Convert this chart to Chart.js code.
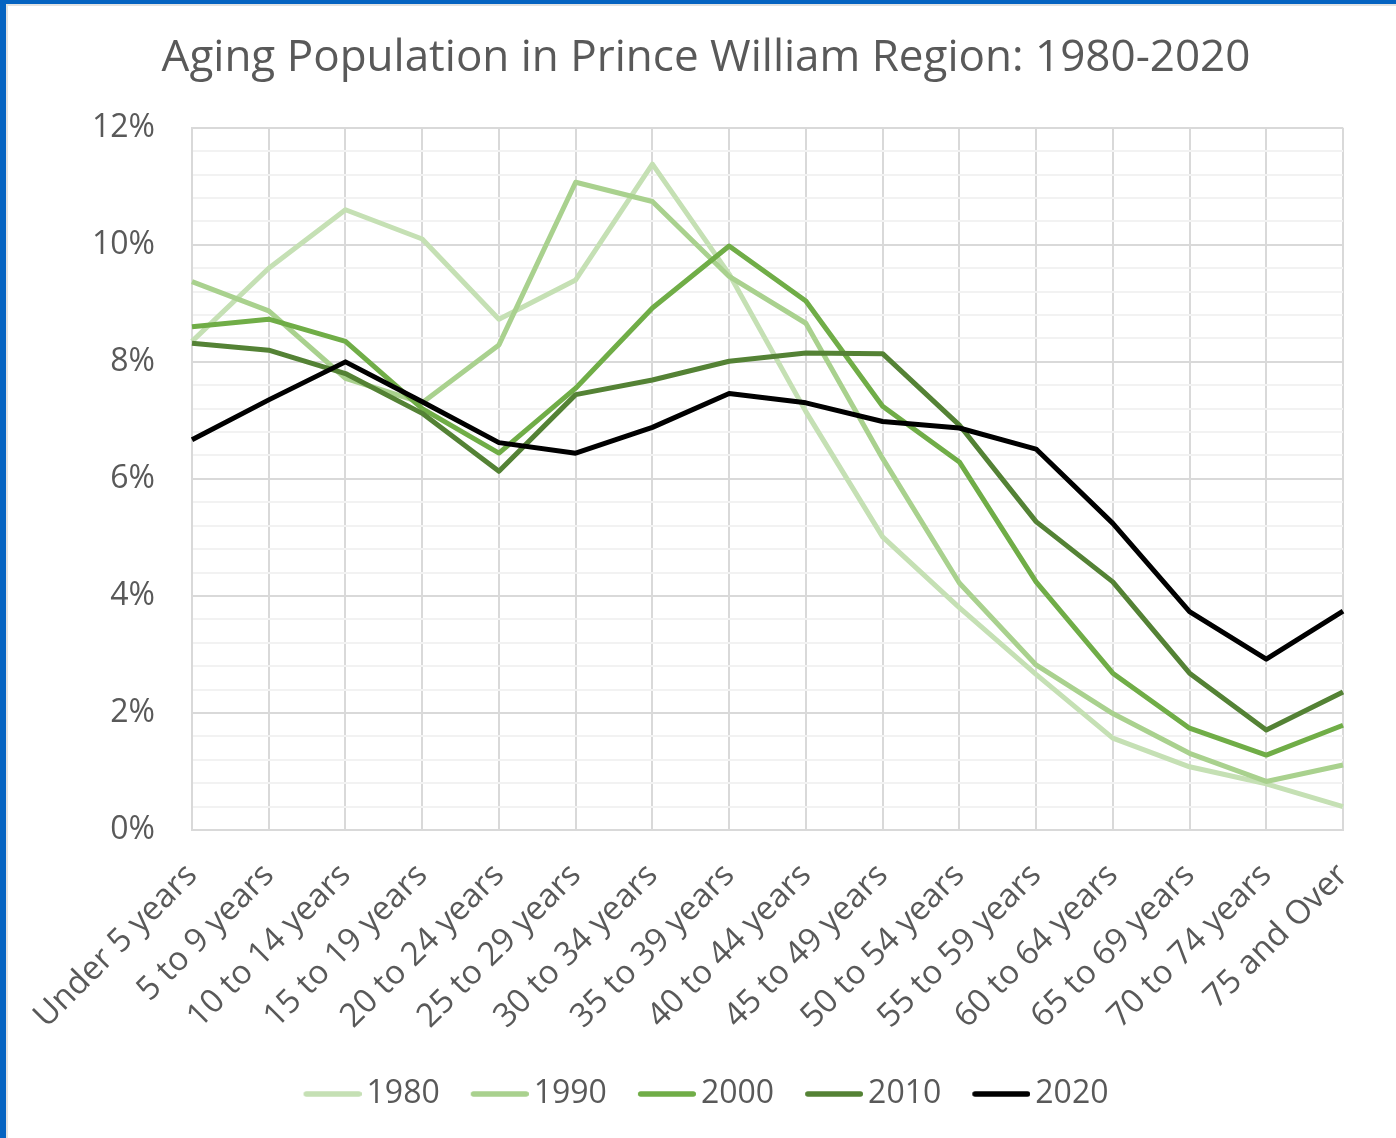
<!DOCTYPE html>
<html><head><meta charset="utf-8">
<script src="https://cdn.jsdelivr.net/npm/chart.js@4"></script>
<style>
html,body{margin:0;padding:0;background:#fff;}
#wrap{position:relative;width:1396px;height:1138px;overflow:hidden;background:#fff;}
#wrap canvas{position:absolute;left:0;top:0;}
.bt{position:absolute;left:0;top:0;width:1396px;height:4px;background:#0563c1;}
.bl{position:absolute;left:0;top:0;width:6px;height:1138px;background:#0563c1;}
.gt{position:absolute;left:6px;top:4px;width:1390px;height:2px;background:#e2e2e2;}
.gl{position:absolute;left:6px;top:4px;width:2px;height:1134px;background:#e2e2e2;}
</style></head><body>
<div id="wrap"><canvas id="c" width="1396" height="1138"></canvas><div class="gt"></div><div class="gl"></div><div class="bt"></div><div class="bl"></div></div>
<script>
const titleText = 'Aging Population in Prince William Region: 1980-2020';
const categories = ['Under 5 years','5 to 9 years','10 to 14 years','15 to 19 years','20 to 24 years','25 to 29 years','30 to 34 years','35 to 39 years','40 to 44 years','45 to 49 years','50 to 54 years','55 to 59 years','60 to 64 years','65 to 69 years','70 to 74 years','75 and Over'];
const years = ['1980','1990','2000','2010','2020'];
const s1980 = [8.35, 9.6, 10.6, 10.1, 8.73, 9.4, 11.38, 9.5, 7.15, 5.01, 3.8, 2.66, 1.57, 1.08, 0.79, 0.4];
const s1990 = [9.37, 8.87, 7.72, 7.3, 8.29, 11.07, 10.74, 9.46, 8.66, 6.35, 4.22, 2.82, 1.99, 1.31, 0.83, 1.11];
const s2000 = [8.6, 8.73, 8.35, 7.2, 6.44, 7.55, 8.92, 9.98, 9.04, 7.24, 6.29, 4.24, 2.68, 1.74, 1.28, 1.79];
const s2010 = [8.32, 8.2, 7.8, 7.12, 6.13, 7.44, 7.69, 8.01, 8.15, 8.14, 6.92, 5.27, 4.24, 2.68, 1.71, 2.36];
const s2020 = [6.67, 7.35, 8.0, 7.32, 6.62, 6.44, 6.88, 7.46, 7.3, 6.98, 6.87, 6.51, 5.24, 3.73, 2.92, 3.74];
const yMin = 0, yMax = 12, yStep = 0.4, yLabelStep = 2;

const seriesList = [s1980, s1990, s2000, s2010, s2020];
const colors = ['#c5e0b4', '#a9d18e', '#70ad47', '#548235', '#000000'];

function legendLine(color) {
  const c = document.createElement('canvas');
  c.width = 69; c.height = 10;
  const g = c.getContext('2d');
  g.strokeStyle = color; g.lineWidth = 5.5; g.lineCap = 'round';
  g.beginPath(); g.moveTo(11 + 2.75, 5); g.lineTo(69 - 2.75, 5); g.stroke();
  return c;
}
const legendImgs = colors.map(legendLine);

Chart.defaults.font.family = "'Open Sans', sans-serif";
Chart.defaults.color = '#595959';

const isMajor = v => Math.abs(v / yLabelStep - Math.round(v / yLabelStep)) < 1e-6;

new Chart(document.getElementById('c'), {
  type: 'line',
  data: {
    labels: categories,
    datasets: years.map((y, i) => ({
      label: y,
      data: seriesList[i],
      borderColor: colors[i],
      backgroundColor: colors[i],
      borderWidth: 5,
      pointRadius: 0,
      tension: 0,
      borderJoinStyle: 'round',
      fill: false,
      order: years.length - i
    }))
  },
  options: {
    responsive: false,
    animation: false,
    devicePixelRatio: 1,
    layout: { padding: { left: 69, right: 53, top: 0, bottom: 18 } },
    plugins: {
      title: { display: true, text: titleText, color: '#595959', font: { size: 44, weight: 'normal' }, padding: { top: 32, bottom: 43 } },
      legend: {
        position: 'bottom',
        labels: {
          usePointStyle: true, pointStyleWidth: 47, padding: 31, color: '#595959', font: { size: 32 },
          generateLabels(chart) {
            const items = Chart.defaults.plugins.legend.labels.generateLabels(chart);
            items.sort((a, b) => a.datasetIndex - b.datasetIndex);
            items.forEach(it => { it.pointStyle = legendImgs[it.datasetIndex]; });
            return items;
          }
        }
      },
      tooltip: { enabled: false }
    },
    scales: {
      x: {
        type: 'category', offset: false,
        grid: { color: '#d9d9d9', lineWidth: 2, drawTicks: false },
        border: { color: '#d9d9d9', width: 2 },
        ticks: { color: '#595959', font: { size: 33 }, minRotation: 45, maxRotation: 45, padding: 26, autoSkip: false },
        afterFit(s) { s.height = 217; s.paddingLeft = 0; s.paddingRight = 0; }
      },
      y: {
        min: yMin, max: yMax, z: -1,
        grid: { color: c => isMajor(c.tick.value) ? '#d9d9d9' : '#f2f2f2', lineWidth: 2, drawTicks: false },
        border: { color: '#d9d9d9', width: 2 },
        ticks: { stepSize: yStep, autoSkip: false, padding: 37, color: '#595959', font: { size: 32 },
          callback: v => isMajor(v) ? Math.round(v) + '%' : '' },
        afterFit(s) { s.width = 123; s.paddingTop = 0; s.paddingBottom = 0; }
      }
    }
  }
});
</script>
</body></html>
